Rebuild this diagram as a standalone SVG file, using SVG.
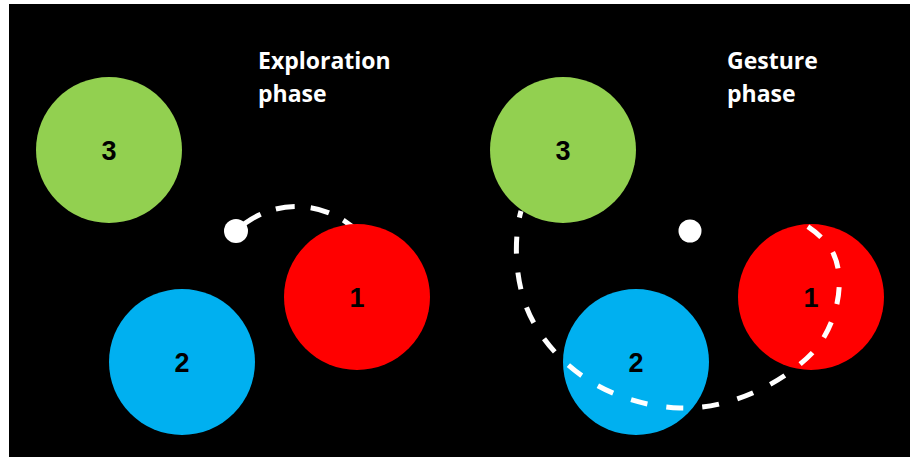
<svg xmlns="http://www.w3.org/2000/svg" width="910" height="457" viewBox="0 0 910 457">
  <style>
    .title { font-family: "Open Sans", "Liberation Sans", sans-serif; font-weight: 700; font-size: 23px; fill: #ffffff; }
    .num { font-family: "Liberation Sans", Arial, sans-serif; font-weight: 700; font-size: 27px; fill: #000000; text-anchor: middle; }
    .green { fill: #92D050; }
    .blue { fill: #00B0F0; }
    .red { fill: #FF0000; }
    .dot { fill: #ffffff; }
    .trail { fill: none; stroke: #ffffff; stroke-width: 5; stroke-linecap: butt; }
  </style>

  <!-- backdrop -->
  <rect x="0" y="0" width="910" height="457" fill="#ffffff"/>
  <rect x="9" y="4" width="901" height="453" fill="#000000"/>

  <!-- left: exploration phase -->
  <text class="title" x="258" y="69">Exploration</text>
  <text class="title" x="258" y="102">phase</text>

  <g id="connectors-exploration">
    <path class="trail" d="M 236 231 A 87 87 0 0 1 358 232" stroke-dasharray="30 16 19 16 19 16 19 16 19 16"/>
  </g>

  <g id="exp-target-3">
    <circle class="green" cx="109" cy="150" r="73"/>
    <text class="num" x="109" y="160">3</text>
  </g>
  <g id="exp-target-2">
    <circle class="blue" cx="182" cy="362" r="73"/>
    <text class="num" x="182" y="372">2</text>
  </g>
  <g id="exp-target-1">
    <circle class="red" cx="357" cy="297" r="73"/>
    <text class="num" x="357" y="307">1</text>
  </g>
  <g id="exp-cursor">
    <circle class="dot" cx="236" cy="231" r="12"/>
  </g>

  <!-- right: gesture phase -->
  <text class="title" x="727" y="69">Gesture</text>
  <text class="title" x="727" y="102">phase</text>

  <g id="ges-target-3">
    <circle class="green" cx="563" cy="150" r="73"/>
    <text class="num" x="563" y="160">3</text>
  </g>
  <g id="ges-target-2">
    <circle class="blue" cx="636" cy="362" r="73"/>
    <text class="num" x="636" y="372">2</text>
  </g>
  <g id="ges-target-1">
    <circle class="red" cx="811" cy="297" r="73"/>
    <text class="num" x="811" y="307">1</text>
  </g>
  <g id="ges-cursor">
    <circle class="dot" cx="690" cy="231" r="11.5"/>
  </g>

  <g id="connectors-gesture">
    <path class="trail" stroke-dasharray="17 19" stroke-dashoffset="10"
          d="M 521 211 C 513 240, 514 290, 535 325 C 560 368, 610 405, 680 408 C 735 410, 790 378, 815 350 C 840 320, 848 270, 828 245 C 820 235, 810 227, 800 222"/>
  </g>
</svg>
